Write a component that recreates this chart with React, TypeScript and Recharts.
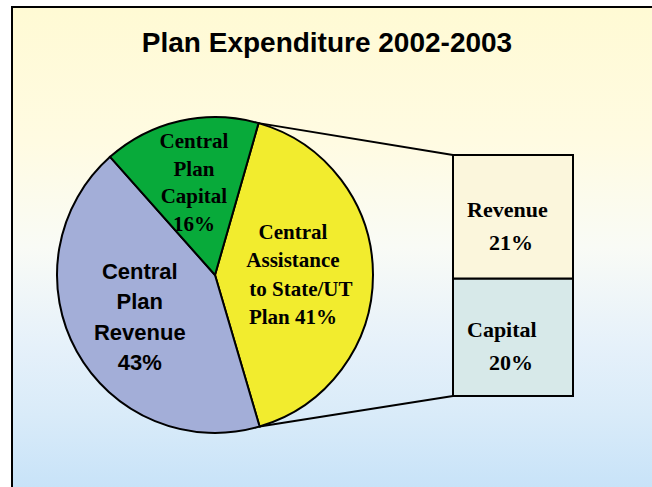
import React from 'react';
import { PieChart, Pie, Cell, BarChart, Bar, XAxis, YAxis, LabelList } from 'recharts';

// ---------- data ----------
const chartTitle = 'Plan Expenditure 2002-2003';
const pieNames = ['Central Assistance to State/UT Plan', 'Central Plan Revenue', 'Central Plan Capital'];
const pieValues = [41, 43, 16];
const pieLabelLines = [
  ['Central', 'Assistance', '   to State/UT', 'Plan 41%'],
  ['Central', 'Plan', 'Revenue', '43%'],
  ['Central', 'Plan', 'Capital', '16%'],
];
const barNames = ['Capital', 'Revenue'];
const barValues = [20, 21];
const barLabelLines = [
  ['Capital', '    20%'],
  ['Revenue', '    21%'],
];

// ---------- layout / style ----------
const W = 652;
const H = 487;
const PIE_CX = 215;
const PIE_CY = 275;
const PIE_R = 158;
const PIE_START = 74; // recharts degrees (ccw from east)
const BAR_LEFT = 453;
const BAR_TOP = 155;
const BAR_W = 120;
const BAR_H = 241;
const BAR_PAD = 2;

const pieColors = ['#f2ec2e', '#a3aed8', '#08aa3a'];
const pieLabelStyles = [
  { family: '"Liberation Serif", "Times New Roman", serif', size: 21, lh: 28.5, r: 78 },
  { family: '"Liberation Sans", Arial, sans-serif', size: 22, lh: 30.5, r: 86 },
  { family: '"Liberation Serif", "Times New Roman", serif', size: 21, lh: 27.7, r: 95 },
];
const barColors = ['#d7e9e9', '#fbf6dc'];

const pieData = pieNames.map((name, i) => ({ name, value: pieValues[i] }));
const barRow: Record<string, string | number> = { cat: 'split' };
barNames.forEach((n, i) => {
  barRow[n] = barValues[i];
});
const barData = [barRow];

const RAD = Math.PI / 180;

const renderPieLabel = (props: any) => {
  const { cx, cy, midAngle, name } = props;
  let idx = typeof props.index === 'number' ? props.index : pieNames.indexOf(name);
  if (idx < 0) idx = pieNames.indexOf(props?.payload?.name);
  const st = pieLabelStyles[idx];
  const lines = pieLabelLines[idx];
  const x = cx + st.r * Math.cos(-midAngle * RAD);
  const y = cy + st.r * Math.sin(-midAngle * RAD);
  const y0 = y - ((lines.length - 1) * st.lh) / 2;
  return (
    <text
      key={`pl-${idx}`}
      x={x}
      y={y0}
      textAnchor="middle"
      dominantBaseline="central"
      fontFamily={st.family}
      fontWeight="bold"
      fontSize={st.size}
      fill="#000"
      style={{ whiteSpace: 'pre' }}
    >
      {lines.map((l, k) => (
        <tspan key={k} x={x} y={y0 + k * st.lh}>
          {l}
        </tspan>
      ))}
    </text>
  );
};

const makeBarLabel = (idx: number) => (props: any) => {
  const { x, y, width, height } = props;
  const cy = Number(y) + Number(height) / 2;
  const tx = Number(x) + 14;
  const lines = barLabelLines[idx];
  return (
    <text
      key={`bl-${idx}`}
      fontFamily='"Liberation Serif", "Times New Roman", serif'
      fontWeight="bold"
      fontSize={22}
      fill="#000"
      dominantBaseline="central"
      style={{ whiteSpace: 'pre' }}
    >
      <tspan x={tx} y={cy - 8}>{lines[0]}</tspan>
      <tspan x={tx} y={cy + 25}>{lines[1]}</tspan>
    </text>
  );
};

export default function App() {
  // connector end points from pie geometry
  const yellowStart = PIE_START;
  const yellowEnd = PIE_START - (pieValues[0] / pieValues.reduce((a, b) => a + b, 0)) * 360;
  const p1 = { x: PIE_CX + PIE_R * Math.cos(yellowStart * RAD), y: PIE_CY - PIE_R * Math.sin(yellowStart * RAD) };
  const p2 = { x: PIE_CX + PIE_R * Math.cos(yellowEnd * RAD), y: PIE_CY - PIE_R * Math.sin(yellowEnd * RAD) };

  return (
    <div style={{ position: 'absolute', left: 0, top: 0, width: W, height: H, background: '#fff', overflow: 'hidden' }}>
      <div
        style={{
          position: 'absolute',
          left: 11,
          top: 6,
          width: W - 11,
          height: H - 6,
          boxSizing: 'border-box',
          borderLeft: '2px solid #000',
          borderTop: '2px solid #000',
          background:
            'linear-gradient(to bottom, #fffad4 0%, #fffbe2 28%, #f9fbf6 50%, #e6f1fa 70%, #d9ebf9 85%, #c8e3f8 100%)',
        }}
      />
      <svg width={W} height={H} style={{ position: 'absolute', left: 0, top: 0 }}>
        <text
          x={327}
          y={52}
          textAnchor="middle"
          fontFamily='"Liberation Sans", Arial, sans-serif'
          fontWeight="bold"
          fontSize={28}
          fill="#000"
        >
          {chartTitle}
        </text>
        <line x1={p1.x} y1={p1.y} x2={BAR_LEFT} y2={BAR_TOP} stroke="#000" strokeWidth={2} />
        <line x1={p2.x} y1={p2.y} x2={BAR_LEFT} y2={BAR_TOP + BAR_H} stroke="#000" strokeWidth={2} />
      </svg>
      <div style={{ position: 'absolute', left: 0, top: 0 }}>
        <PieChart width={W} height={H} margin={{ top: 0, right: 0, bottom: 0, left: 0 }}>
          <Pie
            data={pieData}
            dataKey="value"
            nameKey="name"
            cx={PIE_CX}
            cy={PIE_CY}
            outerRadius={PIE_R}
            startAngle={PIE_START}
            endAngle={PIE_START - 360}
            isAnimationActive={false}
            label={renderPieLabel}
            labelLine={false}
            stroke="#000"
            strokeWidth={2}
          >
            {pieData.map((d, i) => (
              <Cell key={d.name} fill={pieColors[i]} stroke="#000" strokeWidth={2} />
            ))}
          </Pie>
        </PieChart>
      </div>
      <div style={{ position: 'absolute', left: BAR_LEFT - BAR_PAD, top: BAR_TOP - BAR_PAD }}>
        <BarChart
          width={BAR_W + 2 * BAR_PAD}
          height={BAR_H + 2 * BAR_PAD}
          data={barData}
          margin={{ top: BAR_PAD, right: BAR_PAD, bottom: BAR_PAD, left: BAR_PAD }}
          barCategoryGap={0}
          barGap={0}
        >
          <XAxis dataKey="cat" hide />
          <YAxis hide domain={[0, 'dataMax']} />
          {barNames.map((n, i) => (
            <Bar
              key={n}
              dataKey={n}
              stackId="s"
              fill={barColors[i]}
              stroke="#000"
              strokeWidth={2}
              isAnimationActive={false}
            >
              <LabelList dataKey={n} content={makeBarLabel(i)} />
            </Bar>
          ))}
        </BarChart>
      </div>
    </div>
  );
}
